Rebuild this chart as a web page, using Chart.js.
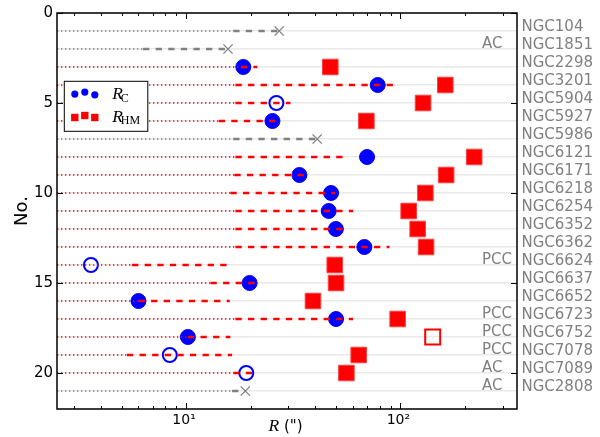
<!DOCTYPE html>
<html>
<head>
<meta charset="utf-8">
<script src="https://cdn.jsdelivr.net/npm/chart.js@4"></script>
<style>
  html, body { margin: 0; padding: 0; background: #fff; }
  #wrap { width: 600px; height: 437px; }
</style>
</head>
<body>
<div id="wrap"><canvas id="chart"></canvas></div>
<script>
// cluster names, one row each (row number = index + 1)
const clusters = ['NGC104', 'NGC1851', 'NGC2298', 'NGC3201', 'NGC5904', 'NGC5927', 'NGC5986',
  'NGC6121', 'NGC6171', 'NGC6218', 'NGC6254', 'NGC6352', 'NGC6362', 'NGC6624', 'NGC6637',
  'NGC6652', 'NGC6723', 'NGC6752', 'NGC7078', 'NGC7089', 'NGC2808'];
const classes = ['', 'AC', '', '', '', '', '', '', '', '', '', '', '', 'PCC', '', '', 'PCC', 'PCC', 'PCC', 'AC', 'AC'];

// radial coverage of each field (dotted up to low, dashed low -> high), arcsec
const coverLow  = [16.6, 6.3, 18.0, 17.0, 17.0, 14.2, 16.6, 17.0, 16.8, 16.1, 17.0, 17.0, 17.0, 5.6, 13.0, 6.0, 17.0, 10.2, 5.3, 16.6, 16.4];
const coverHigh = [27.2, 15.7, 21.5, 95.5, 30.7, 27.5, 40.9, 54.8, 36.0, 49.7, 60.2, 54.2, 88.9, 15.5, 21.1, 16.0, 60.2, 16.1, 16.4, 21.5, 18.9];

// core radius R_C and half-mass radius R_HM (null = no fit)
const coreRadius = [null, null, 18.5, 78.4, 26.4, 25.3, null, 69.9, 33.8, 47.5, 46.3, 50.0, 67.9, 3.6, 19.8, 6.0, 50.1, 10.2, 8.4, 19.1, null];
const coreOpen   = [false, false, false, false, true, false, false, false, false, false, false, false, false, true, false, false, false, false, true, true, false];
const halfMass   = [null, null, 47.1, 162, 127.6, 69.4, null, 221, 163.5, 130.8, 109.3, 120.4, 131.8, 49.4, 50.1, 39.1, 97.1, 141.5, 63.9, 56.0, null];
const halfOpen   = [false, false, false, false, false, false, false, false, false, false, false, false, false, false, false, false, false, true, false, false, false];

const yTicks = [0, 5, 10, 15, 20];
const xTickLabels = { 10: '10\u00b9', 100: '10\u00b2' };
const xMin = 2.5, xMax = 350;
const yMax = 22;

const RED = '#ff0000', BLUE = '#0000ff', GRAY = '#808080';

const rows = clusters.map((n, i) => i + 1);
const fitted = i => coreRadius[i] !== null;

function segments(cond, from, to) {
  const pts = [];
  rows.forEach((y, i) => {
    if (!cond(i)) return;
    pts.push({ x: from(i), y: y }, { x: to(i), y: y }, { x: to(i), y: null });
  });
  return pts;
}
function points(cond, val) {
  const pts = [];
  rows.forEach((y, i) => { if (cond(i)) pts.push({ x: val(i), y: y }); });
  return pts;
}

function lineSet(data, color, dash, width) {
  return { data: data, showLine: true, pointRadius: 0, borderColor: color, borderWidth: width,
    borderDash: dash, spanGaps: false, order: 2 };
}

const datasets = [
  lineSet(segments(fitted, () => xMin, i => coverLow[i]), RED, [1.3, 2.7], 1.5),
  lineSet(segments(fitted, i => coverLow[i], i => coverHigh[i]), RED, [6.3, 6.3], 2.3),
  lineSet(segments(i => !fitted(i), () => xMin, i => coverLow[i]), GRAY, [1.3, 2.7], 1.5),
  lineSet(segments(i => !fitted(i), i => coverLow[i], i => coverHigh[i]), GRAY, [6.3, 6.3], 2.3),
  { data: points(i => fitted(i) && !coreOpen[i], i => coreRadius[i]), pointStyle: 'circle',
    pointRadius: 7.5, pointBorderWidth: 1, backgroundColor: BLUE, borderColor: BLUE, order: 3 },
  { data: points(i => fitted(i) && coreOpen[i], i => coreRadius[i]), pointStyle: 'circle',
    pointRadius: 7, pointBorderWidth: 2, backgroundColor: 'rgba(0,0,0,0)', borderColor: BLUE, order: 3 },
  { data: points(i => halfMass[i] !== null && !halfOpen[i], i => halfMass[i]), pointStyle: 'rect',
    pointRadius: 11, pointBorderWidth: 1, backgroundColor: RED, borderColor: '#ff4040', order: 1 },
  { data: points(i => halfMass[i] !== null && halfOpen[i], i => halfMass[i]), pointStyle: 'rect',
    pointRadius: 10.6, pointBorderWidth: 2, backgroundColor: 'rgba(0,0,0,0)', borderColor: RED, order: 1 },
  { data: points(i => !fitted(i), i => coverHigh[i]), pointStyle: 'crossRot',
    pointRadius: 6.5, pointBorderWidth: 1.3, borderColor: GRAY, backgroundColor: GRAY, order: 1 }
];

// frame, inward ticks, side labels, titles and legend
const decorations = {
  id: 'decorations',
  afterDraw(chart) {
    const { ctx, chartArea: a, scales } = chart;
    const xs = scales.x, ys = scales.y;
    ctx.save();

    // inward ticks
    ctx.strokeStyle = '#000';
    ctx.lineWidth = 1;
    ctx.beginPath();
    for (let e = 0; e <= 2; e++) {
      for (let m = 1; m <= 9; m++) {
        const v = m * Math.pow(10, e);
        if (v < xMin || v > xMax) continue;
        const px = Math.round(xs.getPixelForValue(v)) + 0.5;
        const len = m === 1 ? 6 : 3;
        ctx.moveTo(px, a.bottom); ctx.lineTo(px, a.bottom - len);
        ctx.moveTo(px, a.top); ctx.lineTo(px, a.top + len);
      }
    }
    yTicks.forEach(v => {
      const py = Math.round(ys.getPixelForValue(v)) + 0.5;
      ctx.moveTo(a.left, py); ctx.lineTo(a.left + 6, py);
      ctx.moveTo(a.right, py); ctx.lineTo(a.right - 6, py);
    });
    ctx.stroke();

    // frame
    ctx.lineWidth = 1.5;
    ctx.strokeRect(a.left, a.top, a.right - a.left, a.bottom - a.top);

    // cluster names and classes
    ctx.fillStyle = GRAY;
    ctx.font = '15px "DejaVu Sans"';
    ctx.textBaseline = 'alphabetic';
    ctx.textAlign = 'left';
    rows.forEach((y, i) => {
      const py = ys.getPixelForValue(y);
      ctx.fillText(clusters[i], a.right + 4.5, py);
      if (classes[i]) ctx.fillText(classes[i], a.right - 35, py - 1);
    });

    // axis titles
    ctx.fillStyle = '#000';
    ctx.font = 'italic 17.5px "Liberation Serif"';
    const tx = (a.left + a.right) / 2 - 18.5;
    ctx.fillText('R', tx, 431);
    const rw = ctx.measureText('R').width;
    ctx.font = '15px "DejaVu Sans"';
    ctx.fillText(' (")', tx + rw, 431);

    ctx.save();
    ctx.translate(26.5, (a.top + a.bottom) / 2);
    ctx.rotate(-Math.PI / 2);
    ctx.textAlign = 'center';
    ctx.font = '18px "DejaVu Sans"';
    ctx.fillText('No.', 0, 0);
    ctx.restore();

    // legend
    const bx = a.left + 6.8, by = a.top + 67.8;
    ctx.fillStyle = '#fff';
    ctx.fillRect(bx, by, 84, 50.5);
    ctx.lineWidth = 1;
    ctx.strokeStyle = '#000';
    ctx.strokeRect(bx + 0.5, by + 0.5, 83.5, 50);
    ctx.fillStyle = BLUE;
    [[11, 13.3], [21, 11.3], [31, 14]].forEach(p => {
      ctx.beginPath(); ctx.arc(bx + p[0], by + p[1], 3.6, 0, Math.PI * 2); ctx.fill();
    });
    ctx.fillStyle = RED;
    [[11, 36.7], [21, 34.7], [31, 36.7]].forEach(p => {
      ctx.fillRect(bx + p[0] - 3.7, by + p[1] - 3.7, 7.4, 7.4);
    });
    ctx.fillStyle = '#000';
    ctx.font = 'italic 17.5px "Liberation Serif"';
    ctx.fillText('R', bx + 48.5, by + 18);
    ctx.fillText('R', bx + 48.5, by + 41);
    ctx.font = '12px "Liberation Serif"';
    ctx.fillText('C', bx + 57, by + 21);
    ctx.fillText('HM', bx + 57, by + 43.5);

    ctx.restore();
  }
};

Chart.defaults.font.family = '"DejaVu Sans"';
Chart.defaults.color = '#000';

new Chart(document.getElementById('chart'), {
  type: 'scatter',
  data: { datasets: datasets },
  options: {
    responsive: true,
    maintainAspectRatio: false,
    animation: false,
    layout: { padding: { top: 8, right: 83, left: 0, bottom: 0 } },
    plugins: { legend: { display: false }, tooltip: { enabled: false } },
    scales: {
      x: {
        type: 'logarithmic',
        min: xMin, max: xMax,
        grid: { display: false, drawTicks: false },
        border: { display: false },
        ticks: {
          autoSkip: false, maxRotation: 0, padding: 3, labelOffset: -2,
          font: { size: 14 },
          callback: v => xTickLabels[Math.round(v * 1000) / 1000] || ''
        },
        afterFit: s => { s.height = 28; }
      },
      y: {
        min: 0, max: yMax, reverse: true,
        grid: { color: '#e9e9e9', lineWidth: 1.5, drawTicks: false },
        border: { display: false },
        ticks: {
          stepSize: 1, autoSkip: false, padding: 4,
          font: { size: 15 },
          callback: v => yTicks.includes(v) ? String(v) : ''
        },
        afterFit: s => { s.width = 57; }
      }
    }
  },
  plugins: [decorations]
});
</script>
</body>
</html>
